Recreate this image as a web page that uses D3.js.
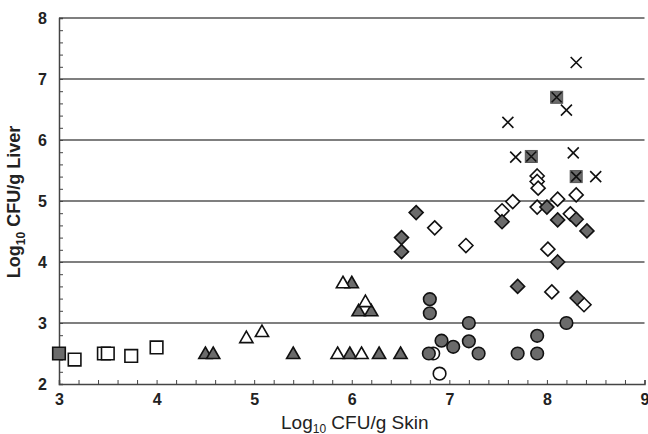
<!DOCTYPE html>
<html lang="en">
<head>
<meta charset="UTF-8">
<title>Liver vs Skin CFU</title>
<style>
  body { margin: 0; background: #fff; }
  text { font-family: Arial, "Liberation Sans", sans-serif; }
</style>
</head>
<body>
<svg id="chart" width="648" height="434"></svg>
<script src="https://d3js.org/d3.v7.min.js"></script>
<script>
// data, [log10 CFU/g skin, log10 CFU/g liver]
var filledSquares = [[3.0, 2.5]];
var openSquares = [[3.16, 2.4], [3.46, 2.5], [3.5, 2.5], [3.74, 2.46], [4.0, 2.6]];
var openTriangles = [[4.92, 2.76], [5.08, 2.86], [5.855, 2.5], [6.1, 2.5], [5.91, 3.66], [6.14, 3.35]];
var filledTriangles = [[4.5, 2.5], [4.58, 2.5], [5.4, 2.5], [5.98, 2.5], [6.28, 2.5], [6.5, 2.5],
    [6.0, 3.66], [6.07, 3.2], [6.2, 3.2]];
var filledCircles = [[6.8, 3.39], [6.8, 3.16], [6.79, 2.5], [6.92, 2.71], [7.04, 2.61], [7.2, 3.0],
    [7.2, 2.7], [7.3, 2.5], [7.7, 2.5], [7.9, 2.79], [7.9, 2.5], [8.2, 3.0]];
var openCircles = [[6.835, 2.5], [6.9, 2.17]];
var openDiamonds = [[6.85, 4.56], [7.17, 4.27], [7.54, 4.84], [7.65, 4.99], [7.9, 5.41], [7.9, 5.32],
    [7.91, 5.21], [7.9, 4.9], [8.01, 4.21], [8.05, 3.51], [8.11, 5.03], [8.24, 4.79], [8.3, 5.1], [8.38, 3.3]];
var filledDiamonds = [[6.51, 4.4], [6.51, 4.17], [6.66, 4.81], [7.54, 4.66], [7.7, 3.6], [8.0, 4.9],
    [8.11, 4.69], [8.11, 4.0], [8.3, 4.7], [8.41, 4.51], [8.31, 3.41]];
var crosses = [[7.6, 6.29], [7.68, 5.72], [8.2, 6.49], [8.3, 7.27], [8.27, 5.79], [8.5, 5.4]];
var crossSquares = [[7.84, 5.73], [8.1, 6.7], [8.3, 5.4]];

var xTicks = [3, 4, 5, 6, 7, 8, 9];
var yTicks = [2, 3, 4, 5, 6, 7, 8];

var svg = d3.select("#chart"),
    padL = 59, padR = 644.5, padT = 18, padB = 384,
    gray = "#6b6b6b";

var x = d3.scaleLinear().domain([3, 9]).range([padL, padR]);
var y = d3.scaleLinear().domain([2, 8]).range([padB, padT]);

// horizontal gridlines
svg.append("g").selectAll("line")
    .data(yTicks.slice(1))
    .enter().append("line")
    .attr("x1", padL).attr("x2", padR)
    .attr("y1", function (d) { return y(d); })
    .attr("y2", function (d) { return y(d); })
    .attr("stroke", "#555")
    .attr("stroke-width", 1.4);

// minor ticks (inside)
var minorX = d3.axisBottom(x).tickValues(d3.range(3, 9.001, 0.2)).tickSize(-4).tickFormat("");
var minorY = d3.axisLeft(y).tickValues(d3.range(2, 8.001, 0.2)).tickSize(-4).tickFormat("");

var gx = svg.append("g").attr("transform", "translate(0," + padB + ")").call(minorX);
var gy = svg.append("g").attr("transform", "translate(" + padL + ",0)").call(minorY);
[gx, gy].forEach(function (g) {
    g.selectAll("line").attr("stroke", "#444");
    g.select(".domain").attr("stroke", "#444").attr("stroke-width", 1.5);
});

// labels
var xAxis = d3.axisBottom(x).tickValues(xTicks).tickSize(0).tickPadding(10).tickFormat(d3.format("d"));
var yAxis = d3.axisLeft(y).tickValues(yTicks).tickSize(0).tickPadding(12).tickFormat(d3.format("d"));
svg.append("g").attr("class", "lbl").attr("transform", "translate(0," + padB + ")").call(xAxis)
    .call(function (g) { g.select(".domain").remove(); });
svg.append("g").attr("class", "lbl").attr("transform", "translate(" + padL + ",0)").call(yAxis)
    .call(function (g) { g.select(".domain").remove(); });
svg.selectAll(".lbl")
    .attr("font-family", "Arial, 'Liberation Sans', sans-serif")
    .attr("font-size", 16)
    .attr("font-weight", "bold");
svg.selectAll(".lbl .tick text").attr("fill", "#222");

// axis titles
var xt = svg.append("text")
    .attr("x", (padL + padR) / 2 + 3).attr("y", 428.5)
    .attr("text-anchor", "middle")
    .attr("font-size", 19).attr("fill", "#222");
xt.append("tspan").text("Log");
xt.append("tspan").attr("font-size", 12).attr("dy", 4).text("10");
xt.append("tspan").attr("dy", -4).text(" CFU/g Skin");

var yt = svg.append("text")
    .attr("transform", "translate(20," + ((padT + padB) / 2 + 1) + ") rotate(-90)")
    .attr("text-anchor", "middle")
    .attr("font-size", 18).attr("font-weight", "bold").attr("fill", "#222");
yt.append("tspan").text("Log");
yt.append("tspan").attr("font-size", 12).attr("dy", 5).text("10");
yt.append("tspan").attr("dy", -5).text(" CFU/g Liver");

// markers
var plot = svg.append("g");

var shapes = {
    square: "M-6.3,-6.3H6.3V6.3H-6.3Z",
    triangle: "M0,-6.5L6.6,5L-6.6,5Z",
    diamond: "M0,-7L7,0L0,7L-7,0Z",
    circle: d3.symbol().type(d3.symbolCircle).size(Math.PI * 6.3 * 6.3)()
};

function symbols(data, shape, fill) {
    plot.append("g").selectAll("path")
        .data(data)
        .enter().append("path")
        .attr("transform", function (d) { return "translate(" + x(d[0]) + "," + y(d[1]) + ")"; })
        .attr("d", shapes[shape])
        .attr("fill", fill)
        .attr("stroke", "#111")
        .attr("stroke-width", 1.6)
        .attr("stroke-linejoin", "miter");
}

symbols(openSquares, "square", "#fff");
symbols(filledSquares, "square", gray);
symbols(filledTriangles, "triangle", gray);
symbols(openTriangles, "triangle", "#fff");
symbols(openCircles, "circle", "#fff");
symbols(filledCircles, "circle", gray);
symbols(openDiamonds, "diamond", "#fff");
symbols(filledDiamonds, "diamond", gray);

// filled squares with a cross
var cs = plot.append("g").selectAll("g")
    .data(crossSquares)
    .enter().append("g")
    .attr("transform", function (d) { return "translate(" + x(d[0]) + "," + y(d[1]) + ")"; });
cs.append("rect").attr("x", -6).attr("y", -6).attr("width", 12).attr("height", 12)
    .attr("fill", gray).attr("stroke", "#555").attr("stroke-width", 1);
cs.append("path").attr("d", "M-5,-5L5,5M-5,5L5,-5").attr("stroke", "#111").attr("stroke-width", 1.6);

// crosses
plot.append("g").selectAll("path")
    .data(crosses)
    .enter().append("path")
    .attr("transform", function (d) { return "translate(" + x(d[0]) + "," + y(d[1]) + ")"; })
    .attr("d", "M-5.5,-5.5L5.5,5.5M-5.5,5.5L5.5,-5.5")
    .attr("stroke", "#111")
    .attr("stroke-width", 1.6);
</script>
</body>
</html>
